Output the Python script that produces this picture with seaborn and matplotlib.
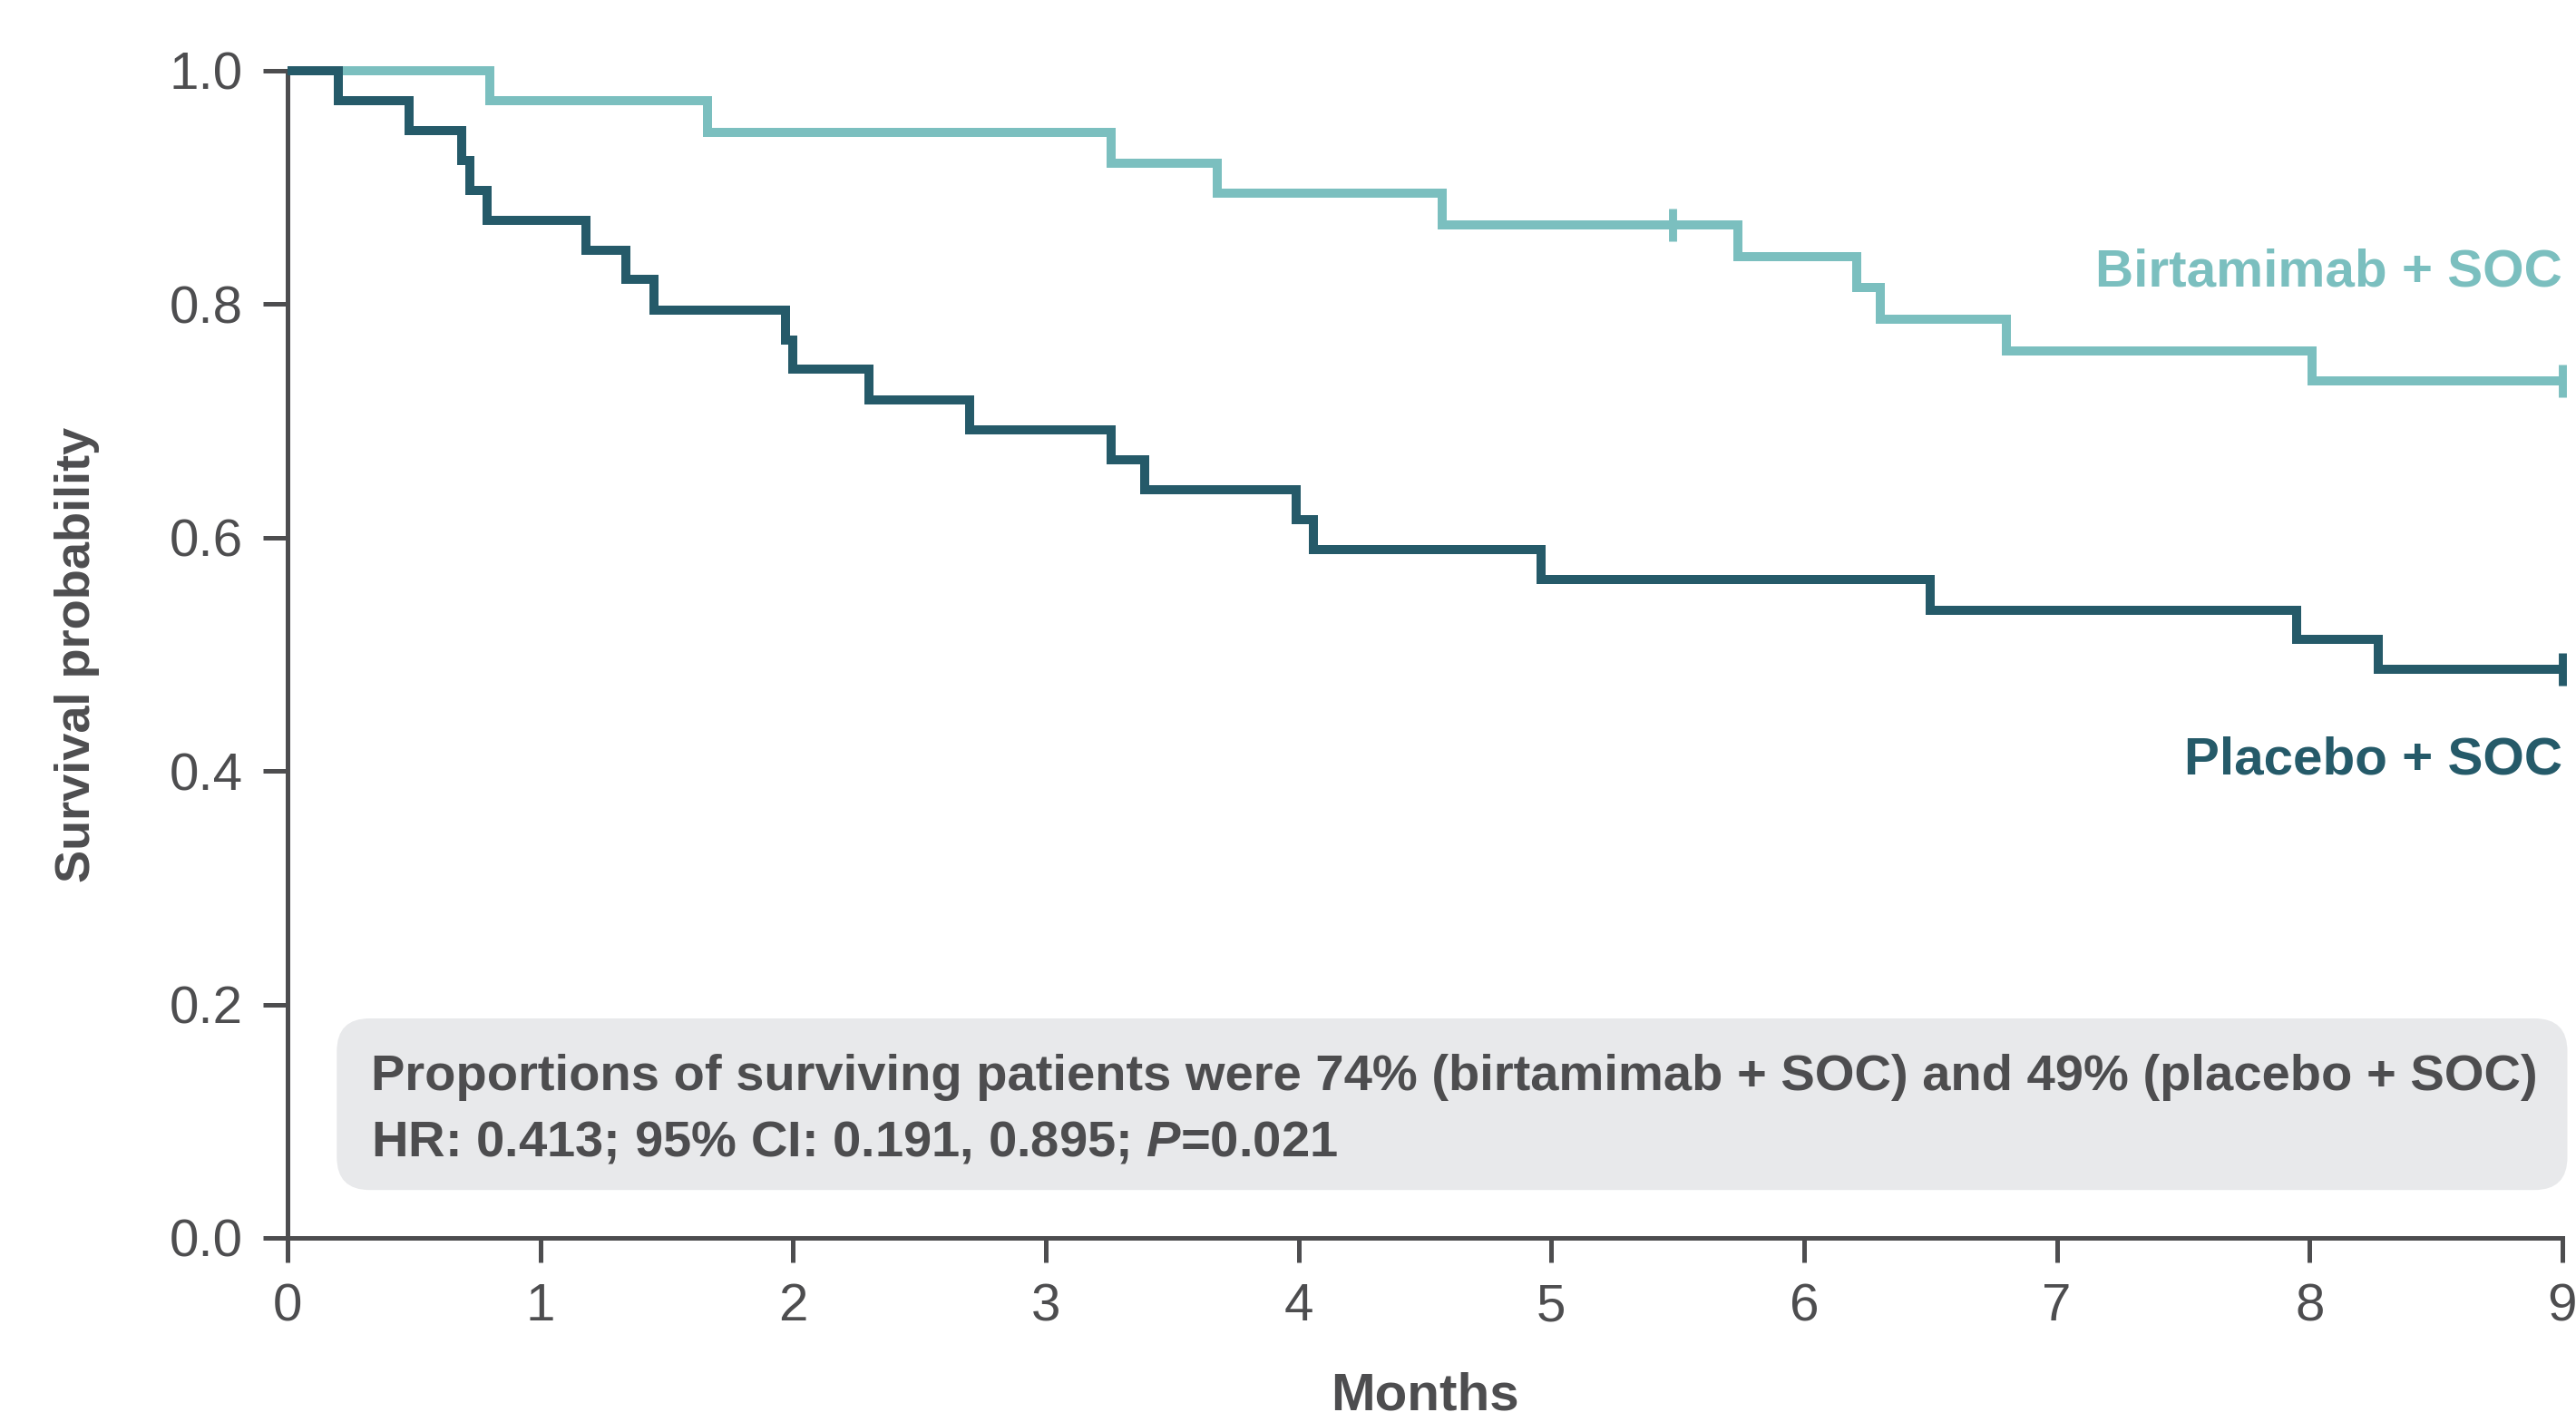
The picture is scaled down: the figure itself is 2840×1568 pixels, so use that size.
import numpy as np
import pandas as pd
import matplotlib.pyplot as plt
import seaborn as sns
from matplotlib.patches import FancyBboxPatch

# Kaplan-Meier steps (months, survival after the drop)
birt_time = [0.0, 0.80, 1.66, 3.26, 3.68, 4.57, 5.74, 6.21, 6.30, 6.80, 8.01, 9.0]
birt_surv = [1.0, 0.974, 0.947, 0.921, 0.895, 0.868, 0.841, 0.814, 0.787, 0.760, 0.734, 0.734]
birt_cens_time = [5.48, 9.0]
birt_cens_surv = [0.868, 0.734]

plac_time = [0.0, 0.20, 0.48, 0.69, 0.72, 0.79, 1.18, 1.34, 1.45, 1.97, 2.00, 2.30,
             2.70, 3.26, 3.39, 3.99, 4.06, 4.96, 6.50, 7.95, 8.27, 9.0]
plac_surv = [1.0, 0.974, 0.949, 0.923, 0.897, 0.872, 0.846, 0.821, 0.795, 0.769, 0.744, 0.718,
             0.692, 0.667, 0.641, 0.615, 0.590, 0.564, 0.538, 0.513, 0.487, 0.487]
plac_cens_time = [9.0]
plac_cens_surv = [0.487]

arms = ['Birtamimab + SOC', 'Placebo + SOC']
colors = {'Birtamimab + SOC': '#7bbfbf', 'Placebo + SOC': '#255a69'}
x_ticks = [0, 1, 2, 3, 4, 5, 6, 7, 8, 9]
y_ticks = [0.0, 0.2, 0.4, 0.6, 0.8, 1.0]

box_line1 = 'Proportions of surviving patients were 74% (birtamimab + SOC) and 49% (placebo + SOC)'
box_line2 = r'HR: 0.413; 95% CI: 0.191, 0.895; $\mathit{P}$=0.021'

df = pd.concat([
    pd.DataFrame({'time': birt_time, 'surv': birt_surv, 'arm': arms[0]}),
    pd.DataFrame({'time': plac_time, 'surv': plac_surv, 'arm': arms[1]}),
])

sns.set_style('ticks')
plt.rcParams['font.family'] = ['Liberation Sans', 'DejaVu Sans']
plt.rcParams['mathtext.fontset'] = 'custom'
plt.rcParams['mathtext.it'] = 'Liberation Sans:italic:bold'
plt.rcParams['mathtext.rm'] = 'Liberation Sans:bold'
grey = '#4d4d4f'

fig = plt.figure(figsize=(14.2, 7.84), dpi=200)
ax = fig.add_axes([0.1116, 0.1295, 0.8831, 0.8208])

sns.lineplot(data=df, x='time', y='surv', hue='arm', palette=colors,
             drawstyle='steps-post', estimator=None, sort=False,
             linewidth=3.6, legend=False, ax=ax, clip_on=False, zorder=3)
for l in ax.lines:
    l.set_solid_joinstyle('miter')
    l.set_solid_capstyle('butt')

ax.plot(birt_cens_time, birt_cens_surv, ls='none', marker='|', ms=13, mew=3.2,
        color=colors[arms[0]], clip_on=False, zorder=4)
ax.plot(plac_cens_time, plac_cens_surv, ls='none', marker='|', ms=13, mew=3.2,
        color=colors[arms[1]], clip_on=False, zorder=4)

ax.set_xlim(0, 9)
ax.set_ylim(0, 1.0)
ax.set_xticks(x_ticks)
ax.set_yticks(y_ticks)
ax.set_yticklabels([f'{v:.1f}' for v in y_ticks])
sns.despine(ax=ax)
for s in ['left', 'bottom']:
    ax.spines[s].set_linewidth(1.8)
    ax.spines[s].set_color(grey)
ax.tick_params(length=9.7, width=1.8, color=grey, labelcolor=grey, labelsize=21, pad=8)

ax.set_xlabel('Months', fontsize=21, fontweight='bold', color=grey, va='center')
ax.xaxis.set_label_coords(0.5, -0.136)
ax.set_ylabel('Survival probability', fontsize=19.5, fontweight='bold', color=grey, va='center')
ax.yaxis.set_label_coords(-0.0925, 0.5)

# curve labels
ax.text(9.0, 0.827, arms[0], ha='right', va='center', fontsize=21, fontweight='bold',
        color=colors[arms[0]], clip_on=False)
ax.text(9.0, 0.409, arms[1], ha='right', va='center', fontsize=21, fontweight='bold',
        color=colors[arms[1]], clip_on=False)

# grey summary box
px_x = 2508 / 9.0
px_y = 1287 / 1.0
box = FancyBboxPatch((0.195, 0.041), 9.02 - 0.195, 0.188 - 0.041,
                     boxstyle='round,pad=0,rounding_size=0.13',
                     mutation_aspect=px_x / px_y, facecolor='#e8e9eb',
                     edgecolor='none', clip_on=False, zorder=1)
ax.add_patch(box)
ax.text(0.331, 0.1266, box_line1, ha='left', va='baseline', fontsize=20.2,
        fontweight='bold', color=grey, zorder=2)
ax.text(0.331, 0.0703, box_line2, ha='left', va='baseline', fontsize=20.2,
        fontweight='bold', color=grey, zorder=2)

fig.savefig('out.png', dpi=200)
